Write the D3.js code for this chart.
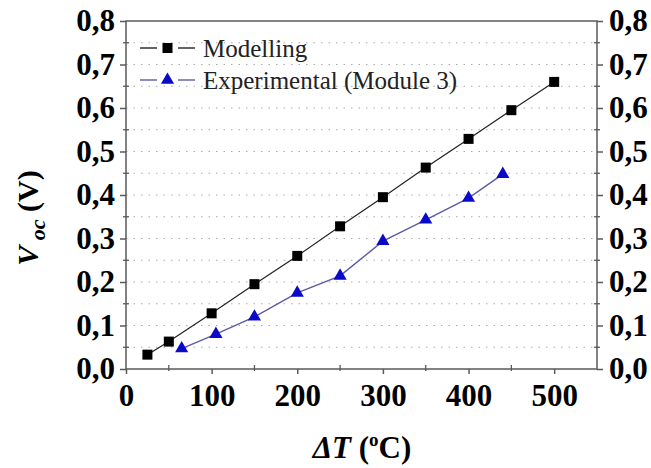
<!DOCTYPE html>
<html>
<head>
<meta charset="utf-8">
<script src="https://cdn.jsdelivr.net/npm/d3@7"></script>
<style>
  html, body { margin: 0; padding: 0; background: #fff; }
  svg { display: block; }
  svg text { font-family: "Liberation Serif", "Times New Roman", Times, serif !important; }
</style>
</head>
<body>
<svg id="chart" width="651" height="468"></svg>
<script>
// Temperature difference (°C) and open-circuit voltage (V)
const modelT = [25, 50, 100, 150, 200, 250, 300, 350, 400, 450, 500];
const modelV = [0.033, 0.063, 0.128, 0.195, 0.260, 0.328, 0.395, 0.463, 0.529, 0.595, 0.660];
const expT = [65, 105, 150, 200, 250, 300, 350, 400, 440];
const expV = [0.047, 0.080, 0.120, 0.175, 0.214, 0.294, 0.343, 0.393, 0.448];

const xTicks = [0, 100, 200, 300, 400, 500];
const xMinor = [50, 150, 250, 350, 450];
const yTicks = [0, 0.1, 0.2, 0.3, 0.4, 0.5, 0.6, 0.7, 0.8];
const yMinor = [0.05, 0.15, 0.25, 0.35, 0.45, 0.55, 0.65, 0.75];
const seriesNames = ["Modelling", "Experimental (Module 3)"];

const svg = d3.select("#chart");
const plotL = 126, plotR = 597, plotT = 21, plotB = 369;

const x = d3.scaleLinear().domain([0, 550]).range([plotL, plotR]);
const y = d3.scaleLinear().domain([0, 0.8]).range([plotB, plotT]);

const fmt = d => d3.format(".1f")(d).replace(".", ",");
const axisColor = "#5a5a5a";

// dotted horizontal grid at every major and minor step
svg.append("g")
  .selectAll("line")
  .data(yTicks.concat(yMinor).filter(d => d > 0 && d < 0.8))
  .join("line")
  .attr("x1", plotL).attr("x2", plotR)
  .attr("y1", d => y(d)).attr("y2", d => y(d))
  .attr("stroke", "#aaaaaa")
  .attr("stroke-width", 1)
  .attr("stroke-dasharray", "1.5,6");

// frame
svg.append("rect")
  .attr("x", plotL).attr("y", plotT)
  .attr("width", plotR - plotL).attr("height", plotB - plotT)
  .attr("fill", "none").attr("stroke", axisColor).attr("stroke-width", 1.5);

function styleTicks(g) {
  g.attr("font-family", null).attr("font-size", null);
  g.select(".domain").remove();
  g.selectAll(".tick line").attr("stroke", axisColor).attr("stroke-width", 1.5);
  g.selectAll(".tick text").attr("fill", "#000")
    .style("font-size", "31px").style("font-weight", "bold");
}

// bottom axis
const xAxis = d3.axisBottom(x).tickValues(xTicks).tickSize(5).tickPadding(10).tickFormat(d3.format("d"));
svg.append("g").attr("transform", `translate(0,${plotB})`).call(xAxis).call(styleTicks);

svg.append("g").selectAll("line").data(xMinor).join("line")
  .attr("x1", d => x(d)).attr("x2", d => x(d))
  .attr("y1", plotB - 4).attr("y2", plotB + 2)
  .attr("stroke", axisColor).attr("stroke-width", 1.3);

// left and right axes
const yAxisL = d3.axisLeft(y).tickValues(yTicks).tickSize(6).tickPadding(5).tickFormat(fmt);
svg.append("g").attr("transform", `translate(${plotL},0)`).call(yAxisL).call(styleTicks);

const yAxisR = d3.axisRight(y).tickValues(yTicks).tickSize(6).tickPadding(6).tickFormat(fmt);
svg.append("g").attr("transform", `translate(${plotR},0)`).call(yAxisR).call(styleTicks);

// minor ticks on both vertical axes
[plotL, plotR].forEach(ax => {
  svg.append("g").selectAll("line").data(yMinor).join("line")
    .attr("x1", ax - 3).attr("x2", ax + 3)
    .attr("y1", d => y(d)).attr("y2", d => y(d))
    .attr("stroke", axisColor).attr("stroke-width", 1.3);
});

// series
const line = d3.line().x(d => x(d[0])).y(d => y(d[1]));
const modelPts = modelT.map((t, i) => [t, modelV[i]]);
const expPts = expT.map((t, i) => [t, expV[i]]);

const expLineColor = "#5b5ba6";
const expMarkColor = "#0a0ac8";

svg.append("path").datum(modelPts).attr("d", line)
  .attr("fill", "none").attr("stroke", "#222").attr("stroke-width", 1.2);
svg.append("path").datum(expPts).attr("d", line)
  .attr("fill", "none").attr("stroke", expLineColor).attr("stroke-width", 1.4);

const sq = 10;
svg.append("g").selectAll("rect").data(modelPts).join("rect")
  .attr("x", d => x(d[0]) - sq / 2).attr("y", d => y(d[1]) - sq / 2)
  .attr("width", sq).attr("height", sq).attr("fill", "#000");

const tri = d3.symbol().type(d3.symbolTriangle).size(75);
svg.append("g").selectAll("path").data(expPts).join("path")
  .attr("transform", d => `translate(${x(d[0])},${y(d[1])})`)
  .attr("d", tri).attr("fill", expMarkColor);

// legend
const legend = svg.append("g");
const legRows = [
  { name: seriesNames[0], y: 48, lc: "#222", mark: "square" },
  { name: seriesNames[1], y: 80, lc: expLineColor, mark: "triangle" }
];
legRows.forEach(r => {
  legend.append("line").attr("x1", 140).attr("x2", 157).attr("y1", r.y).attr("y2", r.y)
    .attr("stroke", r.lc).attr("stroke-width", 1.4);
  legend.append("line").attr("x1", 178).attr("x2", 195).attr("y1", r.y).attr("y2", r.y)
    .attr("stroke", r.lc).attr("stroke-width", 1.4);
  if (r.mark === "square") {
    legend.append("rect").attr("x", 167.5 - sq / 2).attr("y", r.y - sq / 2)
      .attr("width", sq).attr("height", sq).attr("fill", "#000");
  } else {
    legend.append("path").attr("transform", `translate(167.5,${r.y})`)
      .attr("d", tri).attr("fill", expMarkColor);
  }
  legend.append("text").attr("x", 203).attr("y", r.y + 9)
    .attr("fill", "#222").style("font-size", "25px").text(r.name);
});

// axis titles
const xt = svg.append("text").attr("x", 362).attr("y", 458)
  .attr("text-anchor", "middle").attr("fill", "#000")
  .style("font-size", "31px").style("font-weight", "bold");
xt.append("tspan").style("font-style", "italic").text("ΔT");
xt.append("tspan").text(" (");
xt.append("tspan").attr("dy", -12).style("font-size", "19px").text("o");
xt.append("tspan").attr("dy", 12).text("C)");

const yt = svg.append("text")
  .attr("transform", "translate(38,218) rotate(-90)")
  .attr("text-anchor", "middle").attr("fill", "#000")
  .style("font-size", "30px").style("font-weight", "bold");
yt.append("tspan").style("font-style", "italic").text("V");
yt.append("tspan").attr("dy", 7).style("font-style", "italic").style("font-size", "22px").text(" oc");
yt.append("tspan").attr("dy", -7).text(" (V)");
</script>
</body>
</html>
